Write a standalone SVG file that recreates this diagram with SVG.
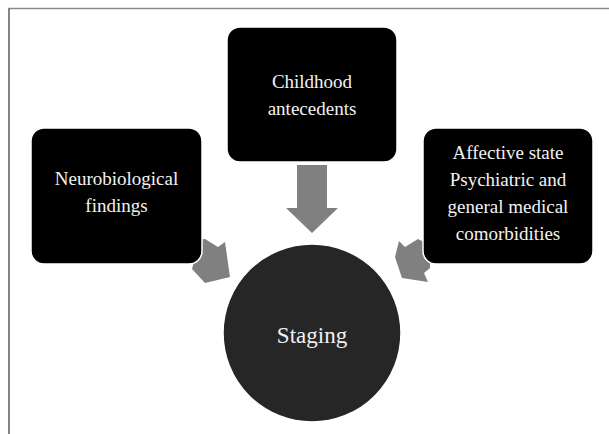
<svg xmlns="http://www.w3.org/2000/svg" width="609" height="434" viewBox="0 0 609 434">
  <style>
    .box { fill: #000; stroke: #fff; stroke-width: 1.5; }
    .hub { fill: #262626; stroke: #fff; stroke-width: 1.5; }
    .arrow { fill: #808080; stroke: none; }
    .lbl { font-family: "Liberation Serif", "Times New Roman", serif; font-size: 19px; fill: #f2f2f2; text-anchor: middle; }
    .hubl { font-family: "Liberation Serif", "Times New Roman", serif; font-size: 23px; fill: #f2f2f2; text-anchor: middle; }
  </style>
  <rect x="0" y="0" width="609" height="434" fill="#fff"/>
  <line x1="8.5" y1="8.5" x2="609" y2="8.5" stroke="#8a8a8a" stroke-width="1.5"/>
  <line x1="9" y1="8.5" x2="9" y2="434" stroke="#333" stroke-width="1.2"/>

  <g id="connectors">
    <polygon class="arrow" points="297,165 327,165 327,208 338,208 312,233 286,208 297,208"/>
    <polygon class="arrow" points="205,239 218,247 225,242 230,277 205,283 192,269 195,258 195,240"/>
    <polygon class="arrow" points="399,241 405,247 418,239 430,245 430,268 424,273 428,282 402,278 395,257"/>
  </g>

  <g id="node-childhood">
    <rect class="box" x="227" y="27" width="170" height="135" rx="13"/>
    <text class="lbl" x="312" y="88">Childhood</text>
    <text class="lbl" x="312" y="115">antecedents</text>
  </g>

  <g id="node-neuro">
    <rect class="box" x="31" y="128" width="171" height="136" rx="13"/>
    <text class="lbl" x="116.5" y="185">Neurobiological</text>
    <text class="lbl" x="116.5" y="212">findings</text>
  </g>

  <g id="node-affective">
    <rect class="box" x="423" y="128" width="170" height="136" rx="13"/>
    <text class="lbl" x="508" y="159">Affective state</text>
    <text class="lbl" x="508" y="186">Psychiatric and</text>
    <text class="lbl" x="508" y="213">general medical</text>
    <text class="lbl" x="508" y="240">comorbidities</text>
  </g>

  <g id="node-staging">
    <circle class="hub" cx="312" cy="333" r="89"/>
    <text class="hubl" x="312" y="343">Staging</text>
  </g>
</svg>
